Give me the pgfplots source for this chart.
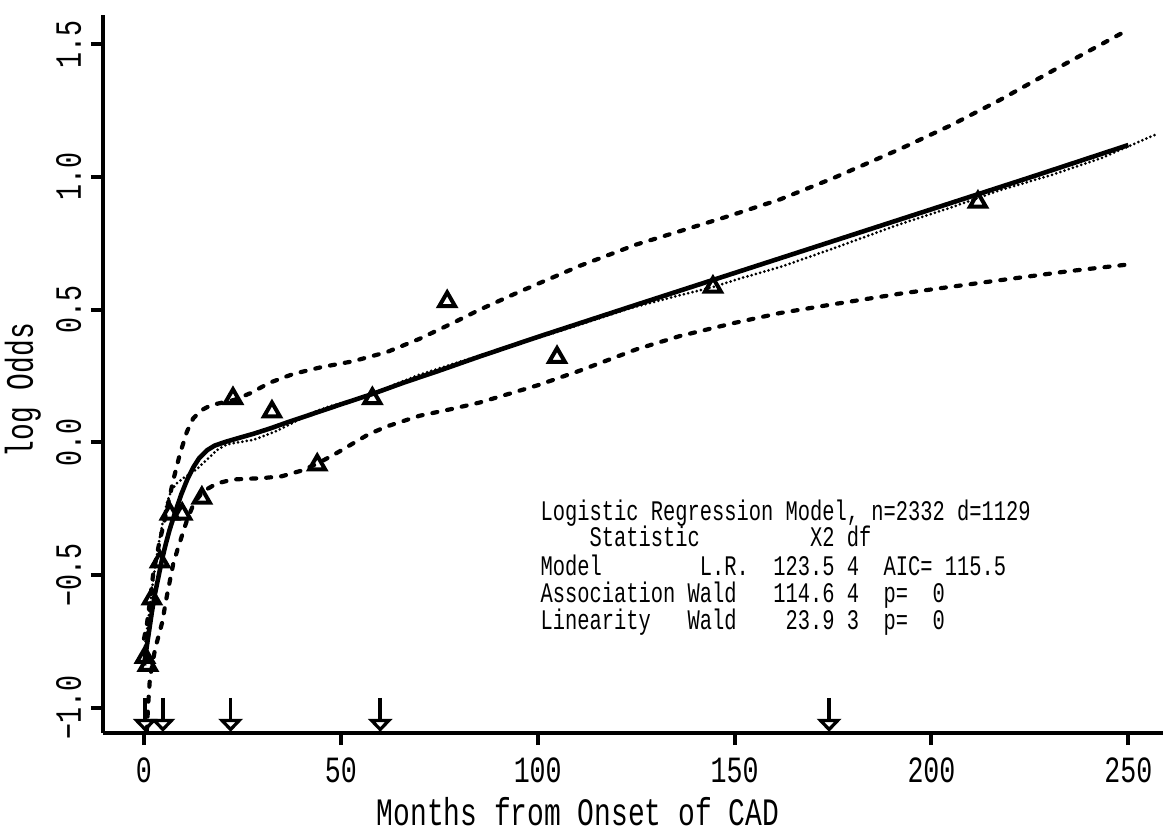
\documentclass[border=0pt]{standalone}
\usepackage{pgfplots}
\pgfplotsset{compat=1.18}
\usepackage{fontspec}
\setmainfont{Liberation Mono}[FakeStretch=0.72]
\usetikzlibrary{arrows.meta}

\begin{document}
\begin{tikzpicture}
\useasboundingbox (-51.5pt,-51.5pt) rectangle (531.5pt,366.5pt);
\begin{axis}[
 at={(0,0)}, anchor=south west,
 scale only axis, width=530pt, height=359pt,
 xmin=-10.41, xmax=258.8, ymin=-1.0953, ymax=1.610,
 axis x line*=bottom, axis y line*=left,
 axis line style={line width=2pt},
 tick align=outside, major tick length=6pt,
 tick style={line width=2pt,black},
 xtick={0,50,100,150,200,250},
 xticklabels={0,50,100,150,200,250},
 ytick={-1,-0.5,0,0.5,1,1.5},
 yticklabels={−1.0,−0.5,0.0,0.5,1.0,1.5},
 ticklabel style={font=\fontsize{18.5}{20}\selectfont},
 yticklabel style={xshift=-5pt, rotate=90, anchor=base},
 xticklabel style={anchor=base, yshift=-18.5pt},
 clip=false,
]
% upper confidence band
\addplot[black, line width=2.1pt, line cap=round, dash pattern=on 2.5pt off 5pt] coordinates {
(0,-0.74)(0.7,-0.69)(1.5,-0.6)(2.3,-0.5)(3.2,-0.43)(4,-0.37)(5,-0.31)(6,-0.24)(7.4,-0.145)(9.1,-0.045)(10.9,0.04)(12.5,0.09)(14.5,0.12)(17,0.14)(20,0.15)(23,0.16)(27,0.185)(32,0.225)(38,0.258)(45,0.283)(53,0.305)(61.7,0.34)(70,0.39)(78.5,0.45)(85.3,0.5)(95,0.565)(110.7,0.665)(125,0.745)(136,0.795)(148,0.85)(161.5,0.915)(175,0.995)(192,1.105)(205,1.195)(217.4,1.29)(232,1.41)(250,1.555)};
% lower confidence band
\addplot[black, line width=2.1pt, line cap=round, dash pattern=on 2.5pt off 5pt] coordinates {
(0.7,-1.09)(1.1,-0.98)(1.5,-0.89)(2.8,-0.78)(4.6,-0.68)(5.8,-0.58)(7.4,-0.46)(8.6,-0.40)(9.9,-0.34)(11,-0.29)(12.4,-0.24)(13.7,-0.21)(15,-0.185)(18.5,-0.155)(22.6,-0.14)(30,-0.135)(35,-0.128)(40.4,-0.105)(44.7,-0.075)(49,-0.04)(53,-0.005)(57,0.03)(61.7,0.06)(70,0.1)(78,0.125)(85.3,0.15)(100,0.215)(110.7,0.27)(125,0.35)(136,0.4)(150,0.45)(161.5,0.487)(175,0.52)(192,0.56)(217,0.61)(235,0.645)(250,0.67)};
% nonparametric (dotted)
\addplot[black, line width=1.5pt, line cap=round, dash pattern=on 0pt off 2.2pt] coordinates {
(0,-0.80)(1,-0.68)(2,-0.56)(3,-0.45)(4,-0.36)(5,-0.28)(6,-0.22)(7,-0.18)(8.3,-0.155)(10,-0.135)(12,-0.115)(13.5,-0.1)(16,-0.065)(18.5,-0.03)(21,-0.008)(24,0.0)(27.7,0.009)(31,0.027)(34,0.045)(38,0.075)(43,0.113)(47,0.135)(51.5,0.153)(58,0.182)(64,0.22)(70,0.255)(78,0.293)(85.3,0.327)(100,0.393)(110,0.44)(123.4,0.505)(135,0.55)(144.5,0.585)(152,0.62)(161.5,0.66)(175,0.73)(192,0.822)(205,0.885)(217.4,0.95)(230,1.005)(243,1.07)(250,1.115)(257,1.16)};
% fitted spline
\addplot[black, line width=2.3pt] coordinates {
(0,-0.84)(1,-0.74)(2,-0.64)(2.8,-0.57)(3.7,-0.505)(4.6,-0.44)(5.5,-0.385)(6.5,-0.33)(8,-0.26)(9.5,-0.195)(11,-0.14)(12.5,-0.095)(14,-0.06)(16,-0.03)(18,-0.012)(21,0.003)(24,0.016)(28,0.033)(32,0.052)(36,0.073)(40,0.093)(45,0.118)(50,0.143)(58,0.182)(66,0.225)(75,0.27)(85,0.322)(100,0.397)(125,0.518)(150,0.638)(175,0.758)(200,0.878)(225,0.998)(250,1.12)};
% grouped observed log odds
\addplot[black, only marks, mark=triangle, mark size=4.6pt, mark options={line width=2pt, fill=white}] coordinates {
(0.25,-0.81)(1,-0.84)(2,-0.59)(4.1,-0.45)(6.6,-0.27)(9.7,-0.27)(14.7,-0.21)(22.6,0.165)(32.5,0.115)(44,-0.085)(58,0.165)(77,0.53)(104.9,0.32)(144.5,0.585)(211.8,0.905)};
% quantile arrows
\addplot[black, line width=1.8pt, quiver={u=0,v=-0.128},
 -{Triangle[open, width=12pt, length=6.5pt]}] coordinates {
(0.3,-0.963)(4.8,-0.963)(22,-0.963)(60,-0.963)(174,-0.963)};
% statistics table
\begin{scope}[every node/.style={anchor=base west, inner sep=0pt, font=\fontsize{14.18}{16}\selectfont}]
\node at (axis cs:100.6,-0.293) {Logistic~Regression~Model,~n=2332~d=1129};
\node at (axis cs:100.6,-0.394) {~~~~Statistic~~~~~~~~~X2~df};
\node at (axis cs:100.6,-0.500) {Model~~~~~~~~L.R.~~123.5~4~~AIC=~115.5};
\node at (axis cs:100.6,-0.602) {Association~Wald~~~114.6~4~~p=~~0};
\node at (axis cs:100.6,-0.707) {Linearity~~~Wald~~~~23.9~3~~p=~~0};
\end{scope}
\node[anchor=base, inner sep=0pt, font=\fontsize{19.4}{21}\selectfont] at (axis cs:110.2,-1.445) {Months from Onset of CAD};
\node[anchor=base, rotate=90, inner sep=0pt, font=\fontsize{19.4}{21}\selectfont] at (axis cs:-28.2,0.197) {log Odds};
\end{axis}
\end{tikzpicture}
\end{document}
